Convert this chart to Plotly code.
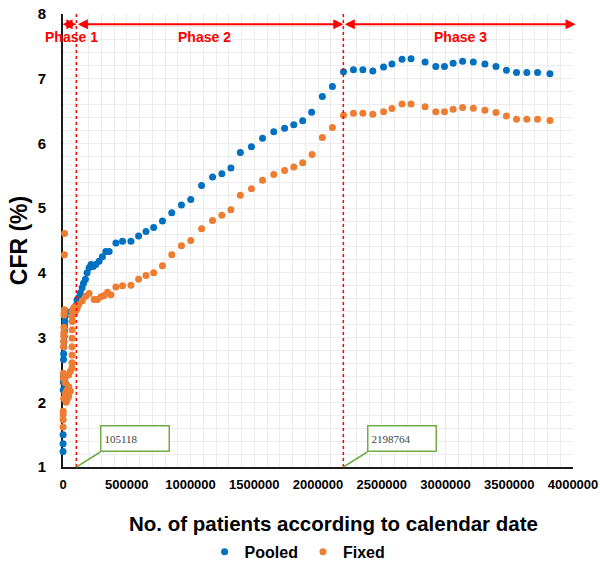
import plotly.graph_objects as go

# ---------------- data ----------------
pooled_x = [300, 600, 900, 1500, 2200, 3000, 4000, 5200, 6500, 8000, 9500, 11000, 13000, 15000, 17000, 19000,
            5000, 14000, 24000,
            63000, 87000, 102000, 110000, 124000, 136000, 150000, 161000, 176000, 189000, 205000, 220000, 236000,
            257000, 283000, 309000, 336000, 362000, 415000, 467000, 533000, 593000, 651000, 711000,
            780000, 853000, 929000, 1002000, 1087000, 1173000, 1246000, 1317000, 1391000, 1478000, 1565000,
            1653000, 1738000, 1810000, 1880000, 1950000, 2034000, 2113000,
            2200000, 2278000, 2352000, 2430000, 2514000, 2580000, 2659000, 2730000, 2840000, 2924000, 2992000,
            3060000, 3134000, 3218000, 3309000, 3396000, 3478000, 3557000, 3638000, 3722000, 3819000]
pooled_y = [1.24, 1.36, 1.50, 2.19, 2.32, 2.40, 2.66, 2.75, 2.86, 2.94, 3.02, 3.10, 3.18, 3.25, 3.33, 3.41,
            2.30, 2.35, 2.28,
            3.40, 3.45, 3.50, 3.58, 3.62, 3.69, 3.77, 3.84, 3.90, 4.00, 4.08, 4.13, 4.10,
            4.13, 4.18, 4.25, 4.33, 4.33, 4.46, 4.49, 4.49, 4.57, 4.64, 4.70,
            4.80, 4.93, 5.05, 5.135, 5.35, 5.48, 5.53, 5.62, 5.86, 5.95, 6.08,
            6.18, 6.235, 6.29, 6.35, 6.48, 6.725, 6.88,
            7.106, 7.137, 7.137, 7.12, 7.18, 7.226, 7.30, 7.31, 7.257, 7.19, 7.19,
            7.24, 7.27, 7.257, 7.226, 7.19, 7.13, 7.097, 7.097, 7.097, 7.076]

fixed_x = [300, 700, 1200, 1800, 2500, 3200, 4000, 4800, 5600, 6400, 7200, 8000, 9000, 10000, 11000, 12000,
           5500, 18000, 18000, 31500, 31500, 45000, 45000, 45000, 57500, 57500, 12000, 24000,
           70000, 70500, 71000, 71000, 71500, 71500, 72000, 72000,
           71000, 84000, 90500, 97000, 102000, 110000,
           123600, 152000, 178700, 204700, 244000, 270000, 297000, 323000, 349000, 375600, 415000, 467000,
           533000, 593000, 651000, 711000,
           780000, 853000, 929000, 1002000, 1087000, 1173000, 1246000, 1317000, 1391000, 1478000, 1565000,
           1653000, 1738000, 1810000, 1880000, 1953000, 2034000, 2113000,
           2200000, 2278000, 2352000, 2430000, 2514000, 2580000, 2659000, 2730000, 2840000, 2924000, 2992000,
           3060000, 3134000, 3218000, 3309000, 3396000, 3478000, 3557000, 3638000, 3722000, 3819000]
fixed_y = [1.62, 1.73, 1.81, 1.86, 2.45, 2.37, 2.86, 2.94, 3.02, 3.07, 3.16, 3.35, 3.38, 3.43, 4.28, 4.61,
           2.06, 2.14, 2.30, 2.04, 2.19, 2.09, 2.24, 2.42, 2.17, 2.48, 2.35, 2.00,
           2.53, 2.61, 2.73, 2.86, 2.99, 3.12, 3.25, 3.33,
           3.405, 3.46, 3.38, 3.48, 3.42, 3.45,
           3.51, 3.57, 3.64, 3.68, 3.59, 3.59, 3.63, 3.65, 3.70, 3.66, 3.78, 3.80,
           3.81, 3.90, 3.96, 4.00,
           4.11, 4.28, 4.42, 4.50, 4.68, 4.81, 4.89, 4.975, 5.20, 5.30, 5.43,
           5.52, 5.58, 5.635, 5.70, 5.83, 6.09, 6.245,
           6.436, 6.467, 6.467, 6.45, 6.49, 6.54, 6.61, 6.61, 6.565, 6.49, 6.49,
           6.53, 6.555, 6.544, 6.513, 6.477, 6.425, 6.374, 6.374, 6.374, 6.354]

phase_bounds = [0, 105118, 2198764, 4020000]
phase_labels = ["Phase 1", "Phase 2", "Phase 3"]
phase_label_x = [63000, 1110000, 3120000]
callout_values = [105118, 2198764]

x_ticks = [0, 500000, 1000000, 1500000, 2000000, 2500000, 3000000, 3500000, 4000000]
y_ticks = [1, 2, 3, 4, 5, 6, 7, 8]
x_title = "No. of patients according to calendar date"
y_title = "CFR (%)"

BLUE = "#0070C0"
ORANGE = "#ED7D31"
RED = "#FF0000"
GREEN = "#70AD47"
FONT = "Liberation Sans, Arial, sans-serif"

fig = go.Figure()
fig.add_trace(go.Scatter(x=pooled_x, y=pooled_y, mode="markers", name="<b>Pooled</b>",
                         marker=dict(color=BLUE, size=7, line=dict(width=0)), cliponaxis=False))
fig.add_trace(go.Scatter(x=fixed_x, y=fixed_y, mode="markers", name="<b>Fixed</b>",
                         marker=dict(color=ORANGE, size=7, line=dict(width=0)), cliponaxis=False))

# dashed phase boundaries
for v in callout_values:
    fig.add_shape(type="line", xref="x", yref="y", x0=v, x1=v, y0=1, y1=8,
                  line=dict(color=RED, width=1.5, dash="dot"), layer="above")

annotations = []
arrow_y = 7.84
starts = [-15000, phase_bounds[1], phase_bounds[2]]
ends = [phase_bounds[1], phase_bounds[2], phase_bounds[3]]
for s, e in zip(starts, ends):
    annotations.append(dict(x=e, y=arrow_y, ax=s, ay=arrow_y, xref="x", yref="y", axref="x", ayref="y",
                            text="", showarrow=True, arrowhead=2, arrowside="end+start", arrowsize=1,
                            arrowwidth=2, arrowcolor=RED, standoff=0, startstandoff=0))
for lab, lx in zip(phase_labels, phase_label_x):
    annotations.append(dict(x=lx, y=7.64, xref="x", yref="y", text="<b>%s</b>" % lab, showarrow=False,
                            font=dict(family=FONT, size=14, color=RED)))
for v in callout_values:
    annotations.append(dict(x=v, y=1, xref="x", yref="y", text=str(v), showarrow=True, arrowhead=0,
                            arrowwidth=1.5, arrowcolor=GREEN, ax=24, ay=-15, xanchor="left", yanchor="bottom",
                            align="left", width=61, height=18, borderpad=3, bordercolor=GREEN, borderwidth=1.5,
                            bgcolor="white", font=dict(family="Liberation Serif, serif", size=11, color="#404040")))
# x-axis title (placed as an annotation so it can sit slightly right of centre like the original)
annotations.append(dict(x=0.531, y=-0.124, xref="paper", yref="paper", text="<b>%s</b>" % x_title,
                        showarrow=False, xanchor="center", yanchor="middle",
                        font=dict(family=FONT, size=20.5, color="black")))

fig.update_layout(
    width=600, height=563,
    margin=dict(l=63, r=27, t=14, b=96, autoexpand=False),
    paper_bgcolor="white", plot_bgcolor="white",
    font=dict(family=FONT, color="black"),
    showlegend=True,
    legend=dict(orientation="h", x=0.46, xanchor="center", y=-0.15, yanchor="top",
                font=dict(family=FONT, size=16, color="black"), itemwidth=30,
                itemsizing="trace", tracegroupgap=0),
    annotations=annotations,
    xaxis=dict(range=[0, 4000000], tickvals=x_ticks, ticktext=["<b>%d</b>" % v for v in x_ticks],
               tickfont=dict(family=FONT, size=13, color="black"), showgrid=True, gridcolor="#ececec",
               gridwidth=1, minor=dict(dtick=100000, tick0=0, showgrid=True, gridcolor="#ececec", gridwidth=1),
               showline=True, linecolor="#1a1a1a", linewidth=2, zeroline=False, ticks="",
               ticklabelstandoff=4, ticklabeloverflow="allow", layer="below traces", automargin=False),
    yaxis=dict(range=[1, 8], tickvals=y_ticks, ticktext=["<b>%d</b>" % v for v in y_ticks],
               tickfont=dict(family=FONT, size=15, color="black"), showgrid=True, gridcolor="#ececec",
               gridwidth=1, minor=dict(dtick=0.2, tick0=1, showgrid=True, gridcolor="#ececec", gridwidth=1),
               showline=True, linecolor="#1a1a1a", linewidth=2, zeroline=False, ticks="",
               ticklabelstandoff=12, ticklabeloverflow="allow", layer="below traces", automargin=False,
               title=dict(text="<b>%s</b>" % y_title, font=dict(family=FONT, size=23, color="black"), standoff=4)),
)

# remove the browser's default 8px body margin so the figure sits at the page origin
fig.write_html("out.html", config={"displayModeBar": False},
               post_script="document.body.style.margin='0';")
